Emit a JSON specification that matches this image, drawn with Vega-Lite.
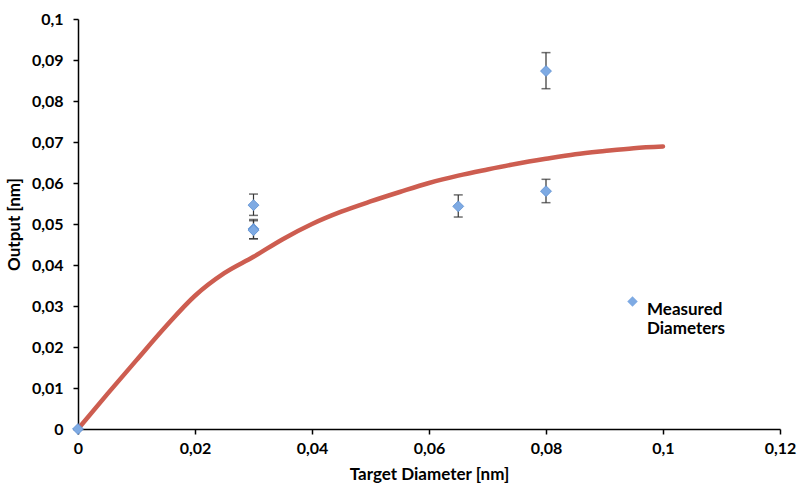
{
  "$schema": "https://vega.github.io/schema/vega-lite/v6.json",
  "width": 702,
  "height": 410,
  "autosize": {"type": "none"},
  "padding": {"left": 78, "top": 19, "right": 17, "bottom": 60},
  "background": "white",
  "config": {
    "locale": {"number": {"decimal": ",", "thousands": ".", "grouping": [3], "currency": ["", " €"]}},
    "view": {"stroke": null},
    "font": "Lato",
    "axis": {
      "grid": false,
      "domainColor": "black",
      "domainWidth": 1.5,
      "tickColor": "black",
      "tickWidth": 1.5,
      "tickSize": 5,
      "labelFlush": false,
      "labelFont": "Lato",
      "labelFontWeight": "bold",
      "labelFontSize": 16,
      "labelColor": "black",
      "titleFont": "Lato",
      "titleFontWeight": "bold",
      "titleFontSize": 17,
      "titleColor": "black"
    }
  },
  "datasets": {
    "fit": [
      {"d": 0, "out": 0}, {"d": 0.005, "out": 0.0085}, {"d": 0.01, "out": 0.0168},
      {"d": 0.015, "out": 0.025}, {"d": 0.02, "out": 0.0325}, {"d": 0.025, "out": 0.038},
      {"d": 0.03, "out": 0.042}, {"d": 0.035, "out": 0.0463}, {"d": 0.04, "out": 0.05},
      {"d": 0.045, "out": 0.053}, {"d": 0.05, "out": 0.0555}, {"d": 0.055, "out": 0.0578},
      {"d": 0.06, "out": 0.06}, {"d": 0.065, "out": 0.0618}, {"d": 0.07, "out": 0.0633},
      {"d": 0.075, "out": 0.0647}, {"d": 0.08, "out": 0.0659}, {"d": 0.085, "out": 0.067},
      {"d": 0.09, "out": 0.0678}, {"d": 0.095, "out": 0.0685}, {"d": 0.1, "out": 0.0689}
    ],
    "measured": [
      {"d": 0, "out": 0, "series": "Measured Diameters"},
      {"d": 0.03, "out": 0.0546, "lo": 0.0521, "hi": 0.0573, "series": "Measured Diameters"},
      {"d": 0.03, "out": 0.0488, "lo": 0.0464, "hi": 0.0511, "series": "Measured Diameters"},
      {"d": 0.03, "out": 0.0485, "lo": 0.0464, "hi": 0.0508, "series": "Measured Diameters"},
      {"d": 0.065, "out": 0.0543, "lo": 0.0517, "hi": 0.0571, "series": "Measured Diameters"},
      {"d": 0.08, "out": 0.0873, "lo": 0.083, "hi": 0.0918, "series": "Measured Diameters"},
      {"d": 0.08, "out": 0.058, "lo": 0.0552, "hi": 0.0609, "series": "Measured Diameters"}
    ]
  },
  "layer": [
    {
      "data": {"name": "measured"},
      "transform": [{"filter": "isValid(datum.lo)"}],
      "mark": {"type": "rule", "color": "#333333", "strokeWidth": 1.2},
      "encoding": {
        "x": {"field": "d", "type": "quantitative"},
        "y": {"field": "lo", "type": "quantitative"},
        "y2": {"field": "hi"}
      }
    },
    {
      "data": {"name": "measured"},
      "transform": [{"filter": "isValid(datum.lo)"}],
      "mark": {"type": "tick", "orient": "horizontal", "color": "#333333", "size": 9, "thickness": 1.5},
      "encoding": {
        "x": {"field": "d", "type": "quantitative"},
        "y": {"field": "lo", "type": "quantitative"}
      }
    },
    {
      "data": {"name": "measured"},
      "transform": [{"filter": "isValid(datum.hi)"}],
      "mark": {"type": "tick", "orient": "horizontal", "color": "#333333", "size": 9, "thickness": 1.5},
      "encoding": {
        "x": {"field": "d", "type": "quantitative"},
        "y": {"field": "hi", "type": "quantitative"}
      }
    },
    {
      "data": {"name": "fit"},
      "mark": {"type": "line", "color": "#cd5d50", "strokeWidth": 4.5, "interpolate": "monotone", "strokeCap": "round"},
      "encoding": {
        "x": {"field": "d", "type": "quantitative"},
        "y": {"field": "out", "type": "quantitative"}
      }
    },
    {
      "data": {"name": "measured"},
      "mark": {"type": "point", "shape": "diamond", "filled": true, "size": 120, "opacity": 1, "stroke": "#5b8ed0", "strokeWidth": 0.8},
      "encoding": {
        "x": {
          "field": "d", "type": "quantitative",
          "scale": {"domain": [0, 0.12], "nice": false},
          "axis": {"values": [0, 0.02, 0.04, 0.06, 0.08, 0.1, 0.12], "format": "~g", "title": "Target Diameter [nm]", "labelPadding": 6, "titlePadding": 10}
        },
        "y": {
          "field": "out", "type": "quantitative",
          "scale": {"domain": [0, 0.1], "nice": false},
          "axis": {"values": [0, 0.01, 0.02, 0.03, 0.04, 0.05, 0.06, 0.07, 0.08, 0.09, 0.1], "format": "~g", "title": "Output [nm]", "labelPadding": 10, "titlePadding": 8}
        },
        "color": {
          "field": "series", "type": "nominal",
          "scale": {"range": ["#7eaae3"]},
          "legend": {
            "title": null,
            "orient": "none",
            "legendX": 546,
            "legendY": 274,
            "symbolType": "diamond",
            "symbolSize": 110,
            "symbolStrokeWidth": 0,
            "labelFont": "Lato",
            "labelFontWeight": "bold",
            "labelFontSize": 17,
            "labelColor": "black",
            "labelLimit": 200,
            "labelExpr": "['Measured', 'Diameters']",
            "labelBaseline": "top",
            "labelOffset": 6
          }
        }
      }
    }
  ]
}
